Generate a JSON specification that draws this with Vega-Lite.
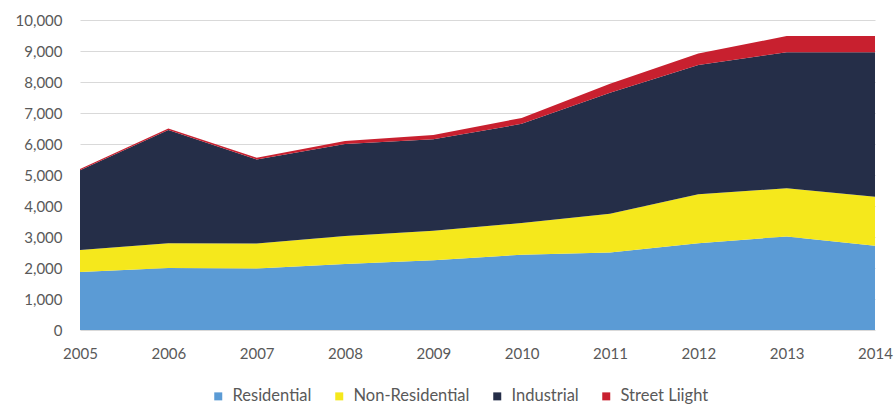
{
  "$schema": "https://vega.github.io/schema/vega-lite/v6.json",
  "width": 795,
  "height": 310,
  "autosize": {"type": "none"},
  "padding": {"top": 20, "left": 80, "right": 20, "bottom": 75},
  "background": "#ffffff",
  "config": {
    "font": "Lato",
    "view": {"stroke": null}
  },
  "data": {
    "values": [
      {"year": 2005, "cat": "Residential", "k": 1, "v": 1870},
      {"year": 2006, "cat": "Residential", "k": 1, "v": 2000},
      {"year": 2007, "cat": "Residential", "k": 1, "v": 1980},
      {"year": 2008, "cat": "Residential", "k": 1, "v": 2130},
      {"year": 2009, "cat": "Residential", "k": 1, "v": 2250},
      {"year": 2010, "cat": "Residential", "k": 1, "v": 2430},
      {"year": 2011, "cat": "Residential", "k": 1, "v": 2500},
      {"year": 2012, "cat": "Residential", "k": 1, "v": 2800},
      {"year": 2013, "cat": "Residential", "k": 1, "v": 3020},
      {"year": 2014, "cat": "Residential", "k": 1, "v": 2720},
      {"year": 2005, "cat": "Non-Residential", "k": 2, "v": 710},
      {"year": 2006, "cat": "Non-Residential", "k": 2, "v": 800},
      {"year": 2007, "cat": "Non-Residential", "k": 2, "v": 810},
      {"year": 2008, "cat": "Non-Residential", "k": 2, "v": 900},
      {"year": 2009, "cat": "Non-Residential", "k": 2, "v": 950},
      {"year": 2010, "cat": "Non-Residential", "k": 2, "v": 1020},
      {"year": 2011, "cat": "Non-Residential", "k": 2, "v": 1250},
      {"year": 2012, "cat": "Non-Residential", "k": 2, "v": 1580},
      {"year": 2013, "cat": "Non-Residential", "k": 2, "v": 1550},
      {"year": 2014, "cat": "Non-Residential", "k": 2, "v": 1580},
      {"year": 2005, "cat": "Industrial", "k": 3, "v": 2570},
      {"year": 2006, "cat": "Industrial", "k": 3, "v": 3650},
      {"year": 2007, "cat": "Industrial", "k": 3, "v": 2710},
      {"year": 2008, "cat": "Industrial", "k": 3, "v": 2970},
      {"year": 2009, "cat": "Industrial", "k": 3, "v": 2950},
      {"year": 2010, "cat": "Industrial", "k": 3, "v": 3200},
      {"year": 2011, "cat": "Industrial", "k": 3, "v": 3900},
      {"year": 2012, "cat": "Industrial", "k": 3, "v": 4170},
      {"year": 2013, "cat": "Industrial", "k": 3, "v": 4390},
      {"year": 2014, "cat": "Industrial", "k": 3, "v": 4660},
      {"year": 2005, "cat": "Street Liight", "k": 4, "v": 40},
      {"year": 2006, "cat": "Street Liight", "k": 4, "v": 50},
      {"year": 2007, "cat": "Street Liight", "k": 4, "v": 60},
      {"year": 2008, "cat": "Street Liight", "k": 4, "v": 100},
      {"year": 2009, "cat": "Street Liight", "k": 4, "v": 140},
      {"year": 2010, "cat": "Street Liight", "k": 4, "v": 190},
      {"year": 2011, "cat": "Street Liight", "k": 4, "v": 290},
      {"year": 2012, "cat": "Street Liight", "k": 4, "v": 370},
      {"year": 2013, "cat": "Street Liight", "k": 4, "v": 520},
      {"year": 2014, "cat": "Street Liight", "k": 4, "v": 520}
    ]
  },
  "mark": {"type": "area"},
  "encoding": {
    "x": {
      "field": "year",
      "type": "quantitative",
      "scale": {"domain": [2005, 2014], "nice": false, "zero": false},
      "axis": {
        "title": null,
        "format": "d",
        "values": [2005, 2006, 2007, 2008, 2009, 2010, 2011, 2012, 2013, 2014],
        "grid": false,
        "ticks": false,
        "domain": false,
        "labelFlush": false,
        "labelPadding": 16,
        "labelFontSize": 15,
        "labelColor": "#595959"
      }
    },
    "y": {
      "field": "v",
      "type": "quantitative",
      "stack": "zero",
      "scale": {"domain": [0, 10000], "nice": false},
      "axis": {
        "title": null,
        "values": [0, 1000, 2000, 3000, 4000, 5000, 6000, 7000, 8000, 9000, 10000],
        "format": ",d",
        "ticks": false,
        "domain": false,
        "gridColor": "#d9d9d9",
        "gridWidth": 1,
        "labelPadding": 18,
        "labelFontSize": 15,
        "labelColor": "#595959"
      }
    },
    "color": {
      "field": "cat",
      "type": "nominal",
      "scale": {
        "domain": ["Residential", "Non-Residential", "Industrial", "Street Liight"],
        "range": ["#5b9bd5", "#f5e81c", "#252e48", "#c8202f"]
      },
      "legend": {
        "title": null,
        "orient": "none",
        "legendX": 130,
        "legendY": 368,
        "direction": "horizontal",
        "symbolType": "square",
        "symbolSize": 64,
        "labelFontSize": 16.5,
        "labelColor": "#595959",
        "columnPadding": 19,
        "labelOffset": 6
      }
    },
    "order": {"field": "k", "type": "quantitative"}
  }
}
